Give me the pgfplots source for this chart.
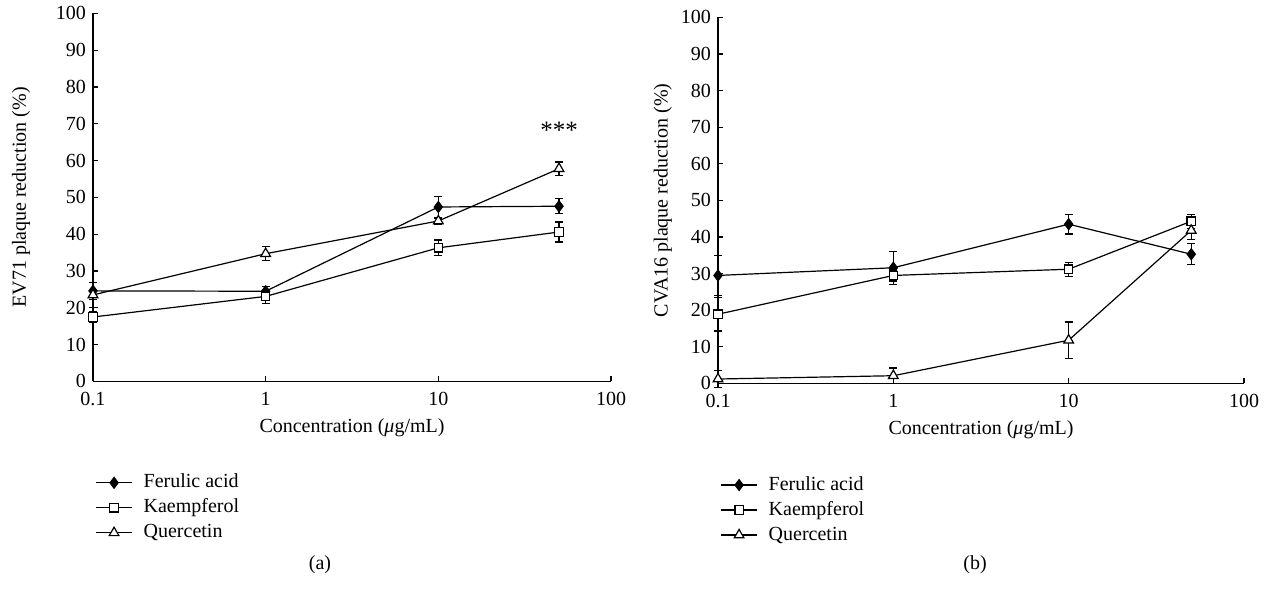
\documentclass[border=0pt]{standalone}
\usepackage{fontspec}
\setmainfont{Liberation Serif}
\usepackage{pgfplots}
\pgfplotsset{compat=1.18}

\pgfplotsset{
  ser/.style={black, line width=0.6pt,
    error bars/y dir=both, error bars/y explicit,
    error bars/error bar style={line width=0.6pt},
    error bars/error mark options={rotate=90, mark size=2pt, line width=0.6pt}},
  fer/.style={ser, mark=diamond*, mark size=2.7pt, mark options={fill=black, solid}},
  kae/.style={ser, mark=square*, mark size=2.1pt, mark options={fill=white, solid}},
  que/.style={ser, mark=triangle*, mark size=2.8pt, mark options={fill=white, solid}},
}
\newcommand{\fs}{\fontsize{10}{12}\selectfont}

\begin{document}
\begin{tikzpicture}
\path (0,0) rectangle (635pt,296pt);

% (a) EV71
\begin{axis}[at={(46.5pt,105.5pt)}, anchor=south west,
  width=259pt, height=184pt, scale only axis,
  xmode=log, xmin=0.1, xmax=100, ymin=0, ymax=100,
  axis lines=left, axis line style={-, line width=0.8pt},
  xtick={0.1,1,10,100}, xticklabels={0.1,1,10,100},
  xminorticks=false, ytick={0,10,...,100},
  tick align=inside, major tick length=2.6pt,
  tick style={black, line width=0.6pt},
  /pgf/number format/assume math mode=true,
  tick label style={font=\fs},
  xticklabel style={yshift=-2pt},
  xlabel={Concentration (\textit{μ}g/mL)},
  xlabel style={font=\fs, at={(axis description cs:0.5,0)}, anchor=center, yshift=-23pt},
  ylabel={EV71 plaque reduction (\%)},
  ylabel style={font=\fs, at={(axis description cs:-0.139,0.5)}, anchor=center, rotate=0},
  clip=false, legend cell align=left,
  legend style={draw=none, fill=none, inner sep=0pt, row sep=3.5pt,
    font=\fs, nodes={inner sep=0pt, text height=7pt, text depth=2pt},
    /tikz/every odd column/.append style={column sep=5.5pt},
    at={(axis description cs:0.004,-0.25)}, anchor=north west},
  legend image code/.code={
    \draw[mark repeat=2, mark phase=2, #1]
      plot coordinates {(0pt,0pt) (9pt,0pt) (18pt,0pt)};},
]
\addplot[fer] coordinates {
  (0.1,24.6) +- (0,2.3)
  (1,24.5)   +- (0,1.3)
  (10,47.4)  +- (0,2.8)
  (50,47.6)  +- (0,2.0)
};
\addlegendentry{Ferulic acid}
\addplot[kae] coordinates {
  (0.1,17.5) +- (0,1.5)
  (1,23.1)   +- (0,1.9)
  (10,36.3)  +- (0,2.1)
  (50,40.6)  +- (0,2.7)
};
\addlegendentry{Kaempferol}
\addplot[que] coordinates {
  (0.1,23.5) +- (0,3.4)
  (1,34.7)   +- (0,1.9)
  (10,43.6)  +- (0,0.8)
  (50,57.8)  +- (0,1.8)
};
\addlegendentry{Quercetin}
\node[anchor=south, inner sep=0pt, font=\fontsize{12.5}{12.5}\selectfont]
  at (axis cs:50,66) {***};
\end{axis}

% (b) CVA16
\begin{axis}[at={(359pt,104.5pt)}, anchor=south west,
  width=263pt, height=183pt, scale only axis,
  xmode=log, xmin=0.1, xmax=100, ymin=0, ymax=100,
  axis lines=left, axis line style={-, line width=0.8pt},
  xtick={0.1,1,10,100}, xticklabels={0.1,1,10,100},
  xminorticks=false, ytick={0,10,...,100},
  tick align=inside, major tick length=2.6pt,
  tick style={black, line width=0.6pt},
  /pgf/number format/assume math mode=true,
  tick label style={font=\fs},
  xticklabel style={yshift=-2pt},
  xlabel={Concentration (\textit{μ}g/mL)},
  xlabel style={font=\fs, at={(axis description cs:0.5,0)}, anchor=center, yshift=-23pt},
  ylabel={CVA16 plaque reduction (\%)},
  ylabel style={font=\fs, at={(axis description cs:-0.105,0.5)}, anchor=center, rotate=0},
  clip=false, legend cell align=left,
  legend style={draw=none, fill=none, inner sep=0pt, row sep=3.5pt,
    font=\fs, nodes={inner sep=0pt, text height=7pt, text depth=2pt},
    /tikz/every odd column/.append style={column sep=5.5pt},
    at={(axis description cs:0.004,-0.252)}, anchor=north west},
  legend image code/.code={
    \draw[mark repeat=2, mark phase=2, #1]
      plot coordinates {(0pt,0pt) (9pt,0pt) (18pt,0pt)};},
]
\addplot[fer] coordinates {
  (0.1,29.5) +- (0,5.5)
  (1,31.6)   +- (0,4.5)
  (10,43.5)  +- (0,2.7)
  (50,35.3)  +- (0,2.9)
};
\addlegendentry{Ferulic acid}
\addplot[kae] coordinates {
  (0.1,18.9) +- (0,4.6)
  (1,29.5)   +- (0,1.5)
  (10,31.2)  +- (0,1.9)
  (50,44.3)  +- (0,1.9)
};
\addlegendentry{Kaempferol}
\addplot[que] coordinates {
  (0.1,1.2)  +- (0,2.3)
  (1,2.1)    +- (0,2.1)
  (10,11.8)  +- (0,5.0)
  (50,41.8)  +- (0,2.5)
};
\addlegendentry{Quercetin}
\end{axis}

\node[font=\fs] at (160pt,14pt) {(a)};
\node[font=\fs] at (487.5pt,14pt) {(b)};
\end{tikzpicture}
\end{document}
